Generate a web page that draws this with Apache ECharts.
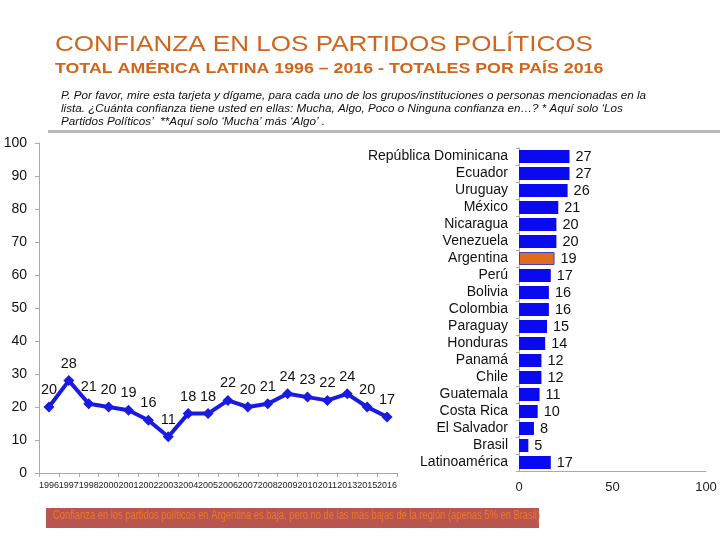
<!DOCTYPE html>
<html><head><meta charset="utf-8">
<script src="https://cdn.jsdelivr.net/npm/echarts@6/dist/echarts.min.js"></script>
<style>html,body{margin:0;padding:0;background:#fff}#c{width:720px;height:540px}</style>
</head><body><div id="c"></div>
<script>
const years = ['1996','1997','1998','2000','2001','2002','2003','2004','2005','2006','2007','2008','2009','2010','2011','2013','2015','2016'];
const trendValues = [20,28,21,20,19,16,11,18,18,22,20,21,24,23,22,24,20,17];
const countries = ['República Dominicana','Ecuador','Uruguay','México','Nicaragua','Venezuela','Argentina','Perú','Bolivia','Colombia','Paraguay','Honduras','Panamá','Chile','Guatemala','Costa Rica','El Salvador','Brasil','Latinoamérica'];
const countryValues = [27,27,26,21,20,20,19,17,16,16,15,14,12,12,11,10,8,5,17];
const leftTicks = [0,10,20,30,40,50,60,70,80,90,100];
const rightTicks = [0,50,100];
const highlight = 'Argentina';

const F = 'Arial, "Liberation Sans", sans-serif';
const chart = echarts.init(document.getElementById('c'));
chart.setOption({
  animation:false,
  backgroundColor:'#fff',
  graphic:[
    {type:'text', x:55, y:34, scaleX:1.185, style:{text:'CONFIANZA EN LOS PARTIDOS POLÍTICOS', font:'22px '+F, fill:'#D0661E'}},
    {type:'text', x:55, y:62, scaleX:1.27, style:{text:'TOTAL AMÉRICA LATINA 1996 – 2016 - TOTALES POR PAÍS 2016', font:'bold 14px '+F, fill:'#D0661E'}},
    {type:'text', x:61, y:89, scaleX:1.015, style:{text:"P. Por favor, mire esta tarjeta y dígame, para cada uno de los grupos/instituciones o personas mencionadas en la\nlista. ¿Cuánta confianza tiene usted en ellas: Mucha, Algo, Poco o Ninguna confianza en…? * Aquí solo ‘Los\nPartidos Políticos’  **Aquí solo ‘Mucha’ más ‘Algo’ .", font:'italic 11.5px '+F, lineHeight:13, fill:'#111'}},
    {type:'rect', shape:{x:48,y:130,width:672,height:3}, style:{fill:'#BBBBBB'}},
    {type:'rect', shape:{x:46,y:508,width:493,height:20}, style:{fill:'#BA544E'}},
    {type:'text', x:53, y:510, scaleX:0.78, style:{text:'Confianza en los partidos políticos en Argentina es baja, pero no de las más bajas de la región (apenas 5% en Brasil)', font:'12px '+F, fill:'#E8782E'}}
  ],
  grid:[
    {left:39, top:143, width:358, height:330},
    {left:519, top:148, width:187, height:323}
  ],
  xAxis:[
    {gridIndex:0, type:'category', data:years, boundaryGap:true,
     axisLine:{lineStyle:{color:'#AAAAAA',width:1}}, axisTick:{show:true,alignWithLabel:false,length:4,lineStyle:{color:'#AAAAAA'}},
     axisLabel:{interval:0, fontFamily:F, fontSize:9, color:'#222', margin:8}},
    {gridIndex:1, type:'value', min:0, max:100, interval:50,
     axisLine:{show:true,lineStyle:{color:'#AAAAAA'}}, axisTick:{show:false}, splitLine:{show:false},
     axisLabel:{fontFamily:F, fontSize:13, color:'#222', margin:10}}
  ],
  yAxis:[
    {gridIndex:0, type:'value', min:0, max:100, interval:10,
     axisLine:{show:true,lineStyle:{color:'#AAAAAA'}}, axisTick:{show:true,length:4,lineStyle:{color:'#AAAAAA'}}, splitLine:{show:false},
     axisLabel:{fontFamily:F, fontSize:14, color:'#111', margin:12}},
    {gridIndex:1, type:'category', data:countries, inverse:true,
     axisLine:{show:true,lineStyle:{color:'#AAAAAA'}}, axisTick:{show:true,length:3,lineStyle:{color:'#AAAAAA'}},
     axisLabel:{interval:0, fontFamily:F, fontSize:14, color:'#111', margin:11}}
  ],
  series:[
    {type:'line', xAxisIndex:0, yAxisIndex:0, data:trendValues,
     symbol:'diamond', symbolSize:11, lineStyle:{color:'#1A1AE0',width:4}, itemStyle:{color:'#1A1AE0'},
     label:{show:true, position:'top', distance:4, fontFamily:F, fontSize:14.5, color:'#111'}},
    {type:'bar', xAxisIndex:1, yAxisIndex:1, barWidth:13,
     data:countryValues.map((v,i)=>countries[i]===highlight?{value:v,itemStyle:{color:'#E06A1E',borderColor:'#4040C0',borderWidth:1}}:v),
     itemStyle:{color:'#0A0AF0'},
     label:{show:true, position:'right', distance:6, fontFamily:F, fontSize:14.5, color:'#111'}}
  ]
});
</script></body></html>
